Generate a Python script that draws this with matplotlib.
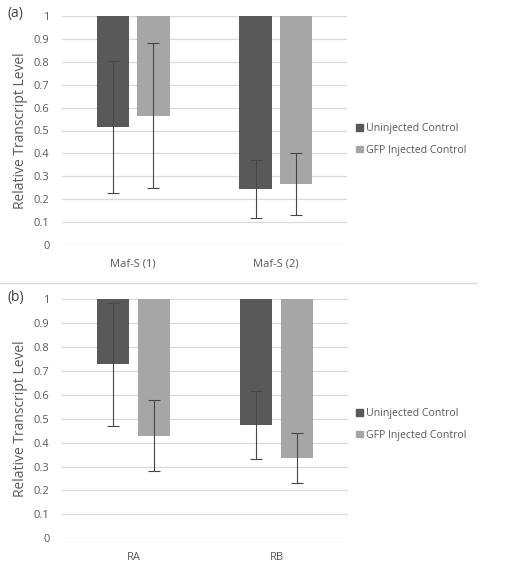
import matplotlib
matplotlib.use("Agg")
import matplotlib.pyplot as plt
from matplotlib.patches import Patch
from matplotlib.lines import Line2D

plt.rcParams['font.family'] = ['Open Sans', 'DejaVu Sans']

series_names = ["Uninjected Control", "GFP Injected Control"]
cats_a = ["Maf-S (1)", "Maf-S (2)"]
uninj_a = [0.515, 0.244]
gfp_a = [0.565, 0.266]
uninj_err_a = [0.29, 0.127]
gfp_err_a = [0.315, 0.135]

cats_b = ["RA", "RB"]
uninj_b = [0.728, 0.474]
gfp_b = [0.429, 0.337]
uninj_err_b = [0.257, 0.144]
gfp_err_b = [0.148, 0.105]

yticks = [0, 0.1, 0.2, 0.3, 0.4, 0.5, 0.6, 0.7, 0.8, 0.9, 1]
ytick_labels = ["0", "0.1", "0.2", "0.3", "0.4", "0.5", "0.6", "0.7", "0.8", "0.9", "1"]

DARK = "#595959"
LIGHT = "#A6A6A6"
GRID = "#D9D9D9"
TXT = "#595959"
ERR = "#474747"

W, H = 507, 564
fig = plt.figure(figsize=(W / 100, H / 100), dpi=100)


def px_axes(x0, x1, y_top, y_bot):
    return fig.add_axes([x0 / W, 1 - y_bot / H, (x1 - x0) / W, (y_bot - y_top) / H])


def draw_panel(ax, cats, u, g, ue, ge, leg_y):
    xs = list(range(len(cats)))
    off = 0.142
    bw = 0.225
    xu = [x - off for x in xs]
    xg = [x + off for x in xs]
    for y in yticks:
        ax.axhline(y, color=GRID, lw=0.9, zorder=0)
    ax.bar(xu, [v - 1 for v in u], bottom=1, width=bw, color=DARK, zorder=2)
    ax.bar(xg, [v - 1 for v in g], bottom=1, width=bw, color=LIGHT, zorder=2)
    ax.errorbar(xu, u, yerr=ue, fmt='none', ecolor=ERR, elinewidth=0.8,
                capsize=4, capthick=0.8, zorder=3)
    ax.errorbar(xg, g, yerr=ge, fmt='none', ecolor=ERR, elinewidth=0.8,
                capsize=4, capthick=0.8, zorder=3)
    ax.set_xlim(-0.5, len(cats) - 0.5)
    ax.set_ylim(0, 1)
    ax.set_yticks(yticks)
    ax.set_yticklabels(ytick_labels)
    ax.set_xticks(xs)
    ax.set_xticklabels(cats)
    for s in ax.spines.values():
        s.set_visible(False)
    ax.tick_params(length=0, labelsize=8, labelcolor=TXT)
    ax.tick_params(axis='y', pad=9)
    ax.tick_params(axis='x', pad=10)
    ax.set_ylabel("Relative Transcript Level", fontsize=10, color=TXT, labelpad=4)
    ax.patch.set_alpha(0)
    handles = [Patch(color=DARK), Patch(color=LIGHT)]
    fig.legend(handles, series_names, loc='center left',
               bbox_to_anchor=(352 / W, 1 - leg_y / H), frameon=False,
               fontsize=7.6, labelcolor=TXT, handlelength=0.6, handleheight=0.6,
               handletextpad=0.3, labelspacing=1.0, borderaxespad=0)


ax1 = px_axes(62, 347, 16, 245)
draw_panel(ax1, cats_a, uninj_a, gfp_a, uninj_err_a, gfp_err_a, 139.5)
fig.text(8 / W, 1 - 13 / H, "(a)", fontsize=10, color="#404040", va='center', ha='left')

ax2 = px_axes(62, 348, 299.3, 538.3)
draw_panel(ax2, cats_b, uninj_b, gfp_b, uninj_err_b, gfp_err_b, 424.5)
fig.text(8 / W, 1 - 298 / H, "(b)", fontsize=10, color="#404040", va='center', ha='left')

fig.add_artist(Line2D([0, 477 / W], [1 - 283 / H, 1 - 283 / H], color=GRID, lw=1))

fig.savefig("out.png", dpi=100)
